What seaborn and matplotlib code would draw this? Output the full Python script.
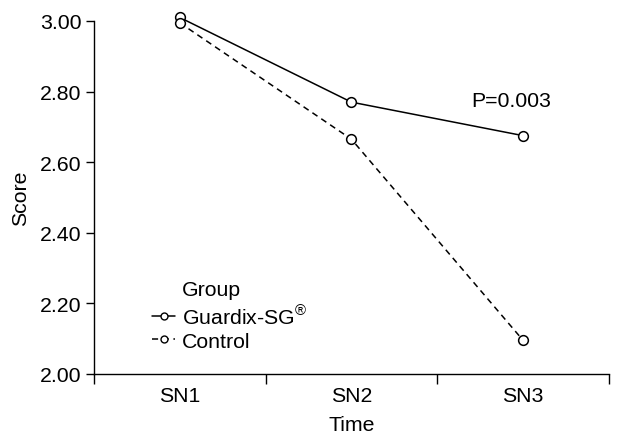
import pandas as pd
import matplotlib.pyplot as plt
import seaborn as sns
from matplotlib.lines import Line2D

times = ['SN1', 'SN2', 'SN3']
guardix = [3.01, 2.77, 2.675]
control = [2.995, 2.665, 2.095]
group_names = ['Guardix-SG', 'Control']
p_label = 'P=0.003'

df = pd.DataFrame({
    'Time': times * 2,
    'Score': guardix + control,
    'Group': [group_names[0]] * 3 + [group_names[1]] * 3,
})

sns.set_style('ticks')
plt.rcParams['font.family'] = ['Liberation Sans', 'DejaVu Sans']
plt.rcParams['mathtext.fontset'] = 'custom'
plt.rcParams['mathtext.rm'] = 'Liberation Sans'
plt.rcParams['text.color'] = 'black'
plt.rcParams['axes.labelcolor'] = 'black'
plt.rcParams['xtick.color'] = 'black'
plt.rcParams['ytick.color'] = 'black'

fs = 15.3

fig = plt.figure(figsize=(6.17, 4.39), dpi=100)
ax = fig.add_axes([0.152, 0.146, 0.835, 0.804])

sns.lineplot(
    data=df, x='Time', y='Score', hue='Group', style='Group',
    palette=['black', 'black'], markers=['o', 'o'],
    dashes=[(None, None), (4, 3)], legend=False, ax=ax,
    linewidth=1.1, markersize=7, clip_on=False,
)
for ln in ax.lines:
    ln.set_markerfacecolor('white')
    ln.set_markeredgecolor('black')
    ln.set_markeredgewidth(1.1)
    ln.set_zorder(5)

ax.set_xlim(-0.5, 2.5)
ax.set_ylim(2.0, 3.0)
ax.set_yticks([2.0, 2.2, 2.4, 2.6, 2.8, 3.0])
ax.set_yticklabels(['2.00', '2.20', '2.40', '2.60', '2.80', '3.00'])
ax.set_xticks([-0.5, 0.5, 1.5, 2.5])
ax.set_xticklabels([])
ax.set_xticks([0, 1, 2], minor=True)
ax.set_xticklabels(times, minor=True)
ax.tick_params(axis='x', which='minor', length=0, pad=9, labelsize=fs)
ax.tick_params(axis='x', which='major', length=7, width=1)
ax.tick_params(axis='y', length=6, width=1, labelsize=fs, pad=3)
for s in ['top', 'right']:
    ax.spines[s].set_visible(False)
for s in ['left', 'bottom']:
    ax.spines[s].set_color('black')
    ax.spines[s].set_linewidth(1)

ax.set_xlabel('Time', fontsize=fs, labelpad=7)
ax.set_ylabel('Score', fontsize=fs, labelpad=7)

ax.text(1.93, 2.776, p_label, fontsize=fs, ha='center', va='center')

handles = [
    Line2D([], [], linestyle='none'),
    Line2D([], [], color='black', lw=1.1, marker='o', mfc='white', mec='black', markersize=5),
    Line2D([], [], color='black', lw=1.1, ls=(0, (4, 3)), marker='o', mfc='white', mec='black', markersize=5),
]
labels = ['Group', 'Guardix-SG$^{®}$', 'Control']
ax.legend(handles, labels, loc='upper left', bbox_to_anchor=(0.113, 0.265),
          frameon=False, fontsize=fs, handlelength=1.1, handletextpad=0.3,
          labelspacing=0.2, borderpad=0, borderaxespad=0)

fig.savefig('out.png', dpi=100)
